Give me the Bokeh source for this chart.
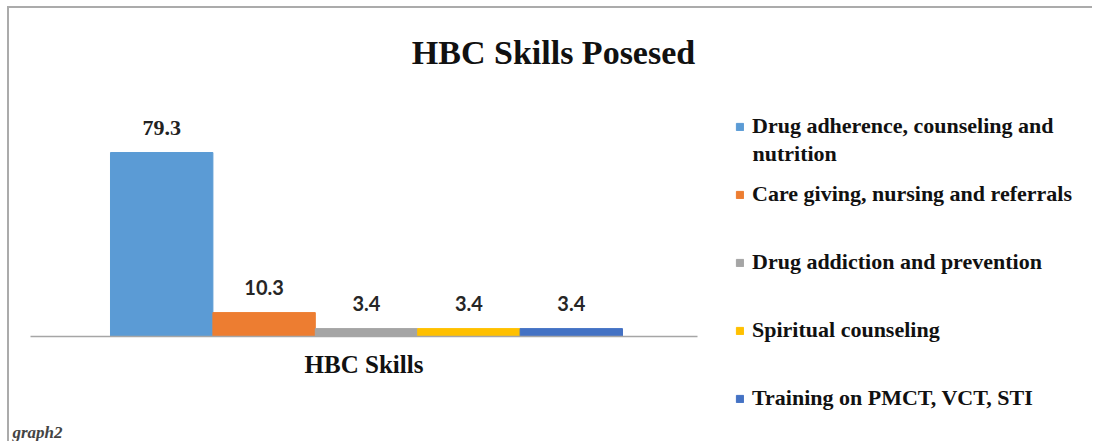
from bokeh.plotting import figure
from bokeh.models import (Range1d, Legend, LegendItem, Label, ColumnDataSource, FixedTicker,
                          LinearAxis, CDSView, IndexFilter)
from bokeh.core.properties import value
from bokeh.embed import file_html
from bokeh.resources import INLINE

title_text = "HBC Skills Posesed"
axis_title = "HBC Skills"
caption = "graph2"
categories = [
    "Drug adherence, counseling and\nnutrition",
    "Care giving, nursing and referrals",
    "Drug addiction and prevention",
    "Spiritual counseling",
    "Training on PMCT, VCT, STI",
]
values = [79.3, 10.3, 3.4, 3.4, 3.4]
colors = ["#5B9BD5", "#ED7D31", "#A5A5A5", "#FFC000", "#4472C4"]

positions = list(range(len(values)))
src = ColumnDataSource(dict(x=positions, top=values, color=colors,
                            lab=[f"{v:.1f}" for v in values]))

W, H = 1085, 435
p = figure(width=W, height=H, output_backend="svg", toolbar_location=None,
           x_range=Range1d(-1.4863, 9.1094), y_range=Range1d(-46.121, 141.379),
           x_axis_location=None, y_axis_location=None,
           min_border_left=0, min_border_right=0, min_border_top=0, min_border_bottom=0)
p.styles = {"border-top": "2px solid #ababab", "border-left": "2px solid #ababab",
            "margin-left": "7px", "margin-top": "6px"}
p.outline_line_color = None
p.grid.visible = False

r = p.vbar(x="x", top="top", width=1.0, color="color", source=src)
# first value label is set in a serif face in the original, the others in a sans face
p.text(x="x", y="top", text="lab", source=src, view=CDSView(filter=IndexFilter([0])),
       text_align="center", text_baseline="middle", y_offset=-25,
       text_font=value("Liberation Serif"), text_font_style="bold", text_font_size="22px",
       text_color="#222222")
p.text(x="x", y="top", text="lab", source=src, view=CDSView(filter=IndexFilter([1, 2, 3, 4])),
       text_align="center", text_baseline="middle", y_offset=-25,
       text_font=value("Lato"), text_font_style="bold", text_font_size="20px",
       text_color="#262626")

ax = LinearAxis(fixed_location=0, bounds=(-1.2812, 5.2325), ticker=FixedTicker(ticks=[]))
ax.axis_line_color = "#a6a6a6"
ax.axis_line_width = 1.5
ax.major_tick_line_color = None
ax.minor_tick_line_color = None
ax.axis_label = axis_title
ax.axis_label_text_font = "Liberation Serif"
ax.axis_label_text_font_style = "bold"
ax.axis_label_text_font_size = "25px"
ax.axis_label_text_color = "#111111"
ax.axis_label_standoff = 14
p.add_layout(ax, "below")

legend_font = dict(text_font="Liberation Serif", text_font_style="bold",
                   text_font_size="22px", text_color="#111111")
legend = Legend(items=[LegendItem(label=c.split("\n")[0], renderers=[r], index=i)
                       for i, c in enumerate(categories)],
                location=(726, 32), margin=0, padding=0, spacing=42,
                glyph_width=9, glyph_height=9, label_standoff=8,
                label_text_font=legend_font["text_font"],
                label_text_font_style=legend_font["text_font_style"],
                label_text_font_size=legend_font["text_font_size"],
                label_text_color=legend_font["text_color"],
                border_line_color=None, background_fill_alpha=0)
p.add_layout(legend, "center")
# continuation line of the wrapped first legend entry
for extra in categories[0].split("\n")[1:]:
    p.add_layout(Label(x=743, y=290, x_units="screen", y_units="screen", text=extra,
                       text_align="left", text_baseline="middle", **legend_font))

p.add_layout(Label(x=544, y=391, x_units="screen", y_units="screen", text=title_text,
                   text_align="center", text_baseline="middle", text_font="Liberation Serif",
                   text_font_style="bold", text_font_size="34px", text_color="#111111"))
p.add_layout(Label(x=3, y=11, x_units="screen", y_units="screen", text=caption,
                   text_align="left", text_baseline="middle", text_font="Liberation Serif",
                   text_font_style="bold italic", text_font_size="17px", text_color="#444444"))

open("out.html", "w").write(file_html(p, INLINE))
